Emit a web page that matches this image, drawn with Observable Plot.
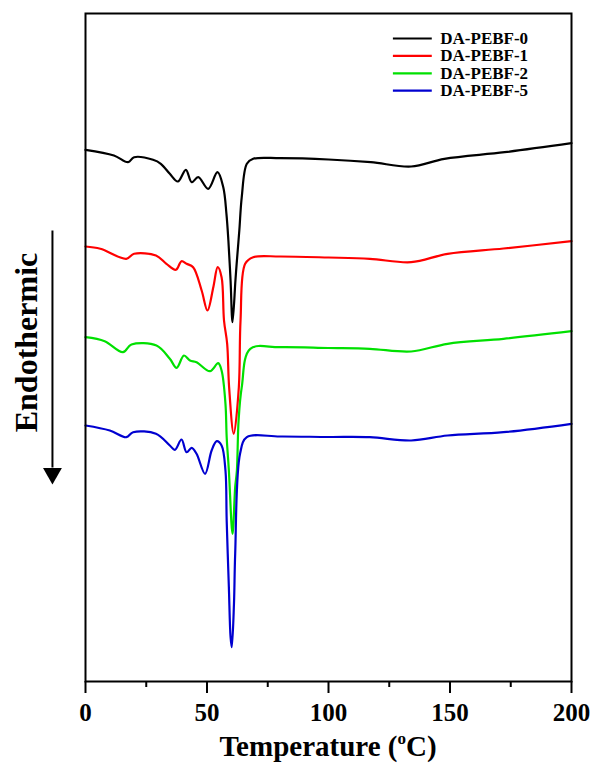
<!DOCTYPE html>
<html><head><meta charset="utf-8">
<script src="https://cdn.jsdelivr.net/npm/d3@7"></script>
<script src="https://cdn.jsdelivr.net/npm/@observablehq/plot@0.6"></script>
<style>
body{margin:0;background:#fff}
#chart svg{font-family:"Liberation Serif","Times New Roman",serif;font-weight:bold}
</style>
</head><body><div id="chart"></div>
<script>
// DSC heating curves (heat flow in arbitrary units, curves vertically offset)
const seriesNames = ["DA-PEBF-0", "DA-PEBF-1", "DA-PEBF-2", "DA-PEBF-5"];
const seriesColors = ["#000000", "#ff0000", "#00e000", "#0000d0"];

const temp0 = [0, 11.7, 17.5, 20, 27.8, 31, 34.7, 38, 41.3, 43.7, 46.4, 50.5, 54.3, 56.7, 58.0, 58.8, 59.7, 60.5, 61.7, 62.2, 63.3, 64.3, 66.4, 69, 80, 100, 117.4, 134, 147.7, 172.5, 200];
const flow0 = [531.7, 526, 519.3, 524.3, 521.7, 517.7, 507.7, 500, 511.7, 499.3, 504.3, 492.7, 509.3, 494.3, 467.7, 441, 401, 359.3, 401, 417.7, 451, 484.3, 517.7, 522.7, 523.3, 522, 519.3, 515, 522.7, 529.3, 538.3];

const temp1 = [0, 6.1, 16.8, 20, 29, 33.3, 37.2, 39.5, 41.6, 44.3, 47.8, 50.2, 52.6, 54.4, 56, 57, 58.3, 59.1, 61, 63.1, 63.8, 65.7, 69, 80, 100, 117, 134, 149, 172, 200];
const flow1 = [435, 432.7, 422.7, 427.7, 426, 417.7, 411.7, 420.3, 417.7, 414.3, 391, 371, 394.3, 414.3, 404.3, 361, 337.7, 294.3, 247.7, 294.3, 361, 417.7, 424.3, 425, 424, 422.7, 419.3, 427.7, 433, 440.3];

const temp2 = [0, 7.9, 15.4, 18.9, 29.2, 34.7, 37.5, 40.5, 43, 45.7, 51.2, 54.6, 56, 57.6, 58.1, 59, 60.5, 61.6, 62.3, 63, 64.3, 67.8, 80, 100, 117, 134, 149, 172, 200];
const flow2 = [344.3, 340.3, 329.3, 337, 336, 322.7, 313.7, 326, 321, 319.3, 310.3, 318.3, 311, 277.7, 244.3, 211, 147.7, 194.3, 211, 261, 294.3, 332.7, 334.3, 333.5, 332.7, 330, 337.7, 342.7, 350.3];

const temp5 = [0, 10, 16.8, 19.6, 29, 34.7, 36.8, 39.5, 41.6, 43.7, 45.7, 49.2, 51.9, 54, 56, 57.6, 58.1, 59, 59.7, 60.2, 61.1, 61.6, 63.6, 66.4, 80, 100, 117, 134, 149, 172, 200];
const flow5 = [256, 251, 244.3, 249.3, 247.7, 236, 231.7, 242, 229.3, 233.7, 227.7, 207.7, 231, 240.3, 236, 211, 161, 94.3, 44.3, 34.3, 77.7, 127.7, 227.7, 244.3, 245, 244.5, 244.3, 241, 246, 249.3, 257.7];

const xTicks = [0, 50, 100, 150, 200];
const xMinorTicks = [25, 75, 125, 175];

const temps = [temp0, temp1, temp2, temp5];
const flows = [flow0, flow1, flow2, flow5];
const data = seriesNames.flatMap((name, i) => temps[i].map((t, j) => ({series: name, T: t, Q: flows[i][j]})));

// legend rows (positions in data units)
const legend = seriesNames.map((name, i) => ({series: name, y: 643 - i * 17.4}));

const plot = Plot.plot({
  width: 592,
  height: 765,
  marginLeft: 85,
  marginRight: 21,
  marginTop: 13,
  marginBottom: 84,
  style: {fontFamily: "'Liberation Serif','Times New Roman',serif", fontWeight: "bold", background: "#fff", overflow: "visible"},
  x: {domain: [0, 200]},
  y: {domain: [0, 668], axis: null},
  color: {domain: seriesNames, range: seriesColors},
  marks: [
    Plot.line(data, {x: "T", y: "Q", z: "series", stroke: "series", strokeWidth: 2.2, curve: "catmull-rom"}),
    Plot.frame({stroke: "#000", strokeWidth: 2}),
    Plot.axisX({ticks: xTicks, tickSize: 12, tickPadding: 10, fontSize: 25, fontWeight: "bold", stroke: "#000", strokeWidth: 2, label: null, fill: "#000"}),
    Plot.axisX({ticks: xMinorTicks, tickSize: 6, text: null, stroke: "#000", strokeWidth: 2, label: null}),
    Plot.link(legend, {x1: 126.5, x2: 142.5, y1: "y", y2: "y", stroke: "series", strokeWidth: 2.2}),
    Plot.text(legend, {x: 146, y: "y", text: "series", textAnchor: "start", fontSize: 17, fontWeight: "bold", fill: "#000"}),
    Plot.text(["Endothermic"], {x: -24, y: 339, text: d => d, rotate: -90, fontSize: 32, fontWeight: "bold", fill: "#000", clip: false}),
    Plot.link([0], {x1: -13.6, x2: -13.6, y1: 451, y2: 214, stroke: "#000", strokeWidth: 2, clip: false}),
    Plot.dot([0], {x: -13.6, y: 208, symbol: "triangle", rotate: 180, r: 7, fill: "#000", stroke: "none", clip: false})
  ]
});

const svg = d3.select(plot);
const lab = svg.append("text")
  .attr("x", 328).attr("y", 756)
  .attr("text-anchor", "middle")
  .attr("font-size", 29)
  .attr("font-weight", "bold")
  .attr("fill", "#000");
lab.append("tspan").text("Temperature (");
lab.append("tspan").attr("font-size", 17).attr("dy", -12).text("o");
lab.append("tspan").attr("dy", 12).text("C)");

document.getElementById("chart").appendChild(plot);
</script>
</body></html>
